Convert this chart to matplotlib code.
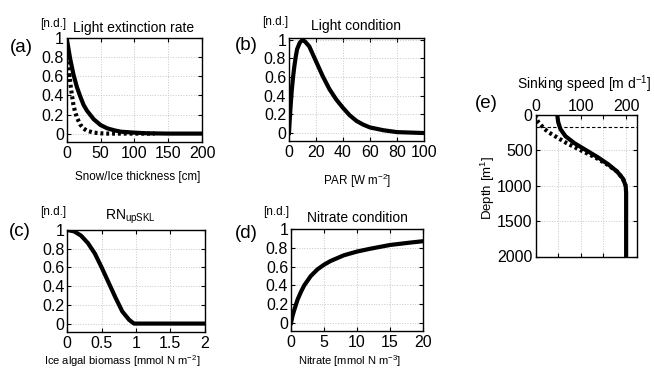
import numpy as np
from matplotlib import pyplot as plt

plt.rcParams['font.family'] = ['Liberation Sans', 'DejaVu Sans']
plt.rcParams['mathtext.default'] = 'regular'

# (a) light extinction rate vs snow/ice thickness
ext_x = [0, 5, 10, 15, 20, 25, 30, 40, 50, 60, 70, 80, 100, 120, 150, 200]
ext_solid = [1, 0.79, 0.62, 0.49, 0.39, 0.30, 0.24, 0.15, 0.09, 0.055, 0.035, 0.02, 0.01, 0.003, 0, 0]
ext_dot_x = [0, 2, 4, 6, 8, 10, 12, 15, 20, 25, 30, 40, 50, 60, 130]
ext_dot = [1, 0.79, 0.62, 0.49, 0.39, 0.30, 0.24, 0.17, 0.095, 0.053, 0.03, 0.01, 0.003, 0, 0]

# (b) light condition vs PAR
par_x = [0, 0.5, 1, 2, 3, 4, 5, 6, 8, 10, 12, 15, 20, 25, 30, 35, 40, 45, 50, 55, 60, 70, 80, 90, 100]
par_y = [0, 0.13, 0.25, 0.45, 0.6, 0.72, 0.82, 0.9, 0.97, 1.0, 0.98, 0.93, 0.77, 0.61, 0.47, 0.36, 0.27, 0.19, 0.13, 0.09, 0.06, 0.03, 0.01, 0.005, 0]

# (c) RN_upSKL vs ice algal biomass
bio_x = [0, 0.1, 0.2, 0.3, 0.4, 0.5, 0.6, 0.7, 0.8, 0.9, 0.97, 2.0]
bio_y = [1, 0.985, 0.94, 0.86, 0.75, 0.6, 0.44, 0.28, 0.13, 0.04, 0, 0]

# (d) nitrate condition
no3_x = [0, 0.25, 0.5, 1, 1.5, 2, 3, 4, 5, 6, 8, 10, 12, 15, 18, 20]
no3_y = [0, 0.08, 0.14, 0.25, 0.33, 0.4, 0.5, 0.57, 0.62, 0.66, 0.72, 0.76, 0.79, 0.83, 0.855, 0.87]

# (e) sinking speed vs depth
sink_depth = [0, 100, 200, 300, 400, 500, 600, 700, 800, 900, 1000, 1100, 2000]
sink_solid = [48, 50, 55, 66, 86, 112, 138, 161, 180, 193, 199, 200, 200]
sink_dot_depth = [0, 50, 100, 150, 200, 250, 300, 400, 500, 600, 700, 800, 900, 1000]
sink_dot = [0, 2, 6, 13, 20, 30, 43, 69, 100, 132, 158, 180, 193, 199]

W, H = 654, 370
fig = plt.figure(figsize=(W / 100, H / 100), dpi=100)


def px_axes(x0, y0, x1, y1):
    return fig.add_axes([x0 / W, 1 - y1 / H, (x1 - x0) / W, (y1 - y0) / H])


def ftext(x, y, s, size, **kw):
    fig.text(x / W, 1 - y / H, s, fontsize=size, ha=kw.pop('ha', 'center'), va=kw.pop('va', 'center'), **kw)


def style(ax):
    ax.tick_params(direction='in', top=True, right=True, length=3, width=0.8,
                   labelsize=11.5, pad=2)
    ax.tick_params(axis='x', pad=3)
    ax.grid(True, color='#c8c8c8', linestyle=':', linewidth=0.7)
    ax.set_axisbelow(True)
    for s in ax.spines.values():
        s.set_linewidth(1.0)


yt = [0, 0.2, 0.4, 0.6, 0.8, 1]
ytl = ['0', '0.2', '0.4', '0.6', '0.8', '1']
dot_style = dict(color='k', lw=3, linestyle=(0, (0.7, 0.7)))
TS, LS, NS, PS = 10, 8.4, 8.5, 13.5

# (a)
ax1 = px_axes(66.7, 38.3, 202, 141.7)
ax1.plot(ext_dot_x, ext_dot, **dot_style)
ax1.plot(ext_x, ext_solid, color='k', lw=3)
ax1.set_xlim(0, 200)
ax1.set_ylim(-0.085, 1)
ax1.set_xticks([0, 50, 100, 150, 200])
ax1.set_yticks(yt, ytl)
style(ax1)
ftext(53, 24, '[n.d.]', NS)
ftext(134, 28, 'Light extinction rate', TS)
ftext(21, 47, '(a)', PS)
ftext(138, 177, 'Snow/Ice thickness [cm]', LS)

# (b)
ax2 = px_axes(289, 38, 424, 140.5)
ax2.plot(par_x, par_y, color='k', lw=3)
ax2.set_xlim(0, 100)
ax2.set_ylim(-0.08, 1.02)
ax2.set_xticks([0, 20, 40, 60, 80, 100])
ax2.set_yticks(yt, ytl)
style(ax2)
ftext(275, 22, '[n.d.]', NS)
ftext(356, 26, 'Light condition', TS)
ftext(246, 46, '(b)', PS)
ftext(357, 181, 'PAR [W m$^{-2}$]', LS)

# (c)
ax3 = px_axes(67.3, 230, 204.7, 332)
ax3.plot(bio_x, bio_y, color='k', lw=3)
ax3.set_xlim(0, 2)
ax3.set_ylim(-0.09, 1)
ax3.set_xticks([0, 0.5, 1, 1.5, 2], ['0', '0.5', '1', '1.5', '2'])
ax3.set_yticks(yt, ytl)
style(ax3)
ftext(53, 212, '[n.d.]', NS)
ftext(130, 217, 'RN$_{upSKL}$', TS)
ftext(20, 232, '(c)', PS)
ftext(122, 361, 'Ice algal biomass [mmol N m$^{-2}$]', 8)

# (d)
ax4 = px_axes(291, 229, 423, 331)
ax4.plot(no3_x, no3_y, color='k', lw=3)
ax4.set_xlim(0, 20)
ax4.set_ylim(-0.085, 1)
ax4.set_xticks([0, 5, 10, 15, 20])
ax4.set_yticks(yt, ytl)
style(ax4)
ftext(276, 212, '[n.d.]', NS)
ftext(357, 218, 'Nitrate condition', TS)
ftext(246, 233, '(d)', PS)
ftext(350, 361, 'Nitrate [mmol N m$^{-3}$]', 8)

# (e)
ax5 = px_axes(535.5, 114.9, 637, 256.5)
ax5.axhline(175, color='k', lw=0.8, linestyle=(0, (3, 2)))
ax5.plot(sink_dot, sink_dot_depth, **dot_style)
ax5.plot(sink_solid, sink_depth, color='k', lw=3)
ax5.set_xlim(0, 224)
ax5.set_ylim(2000, 0)
ax5.set_xticks([0, 50, 100, 150, 200], ['0', '', '100', '', '200'])
ax5.set_yticks([0, 500, 1000, 1500, 2000])
style(ax5)
ax5.tick_params(axis='x', labeltop=True, labelbottom=False, pad=1)
ftext(584, 84, 'Sinking speed [m d$^{-1}$]', TS)
ftext(486, 104, '(e)', PS)
ftext(488, 188, 'Depth [m$^{1}$]', 9.5, rotation=90)

plt.savefig('out.png', dpi=100)
